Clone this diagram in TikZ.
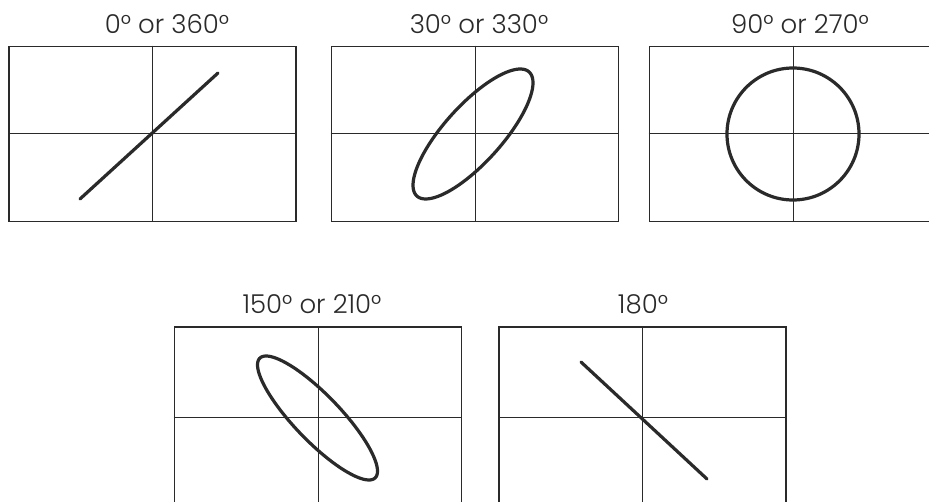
\documentclass[tikz,border=0pt]{standalone}
\usepackage{fontspec}
\setmainfont{Poppins}[UprightFont=* Light]
\definecolor{ink}{HTML}{2A2A2A}
\tikzset{
  scopebox/.style={draw=ink, line width=1.8pt, rectangle, inner sep=0pt, minimum width=287pt},
  topbox/.style={scopebox, minimum height=175pt},
  lowbox/.style={scopebox, minimum height=180pt},
  axis/.style={draw=ink, line width=1.0pt},
  trace/.style={draw=ink, line width=3.2pt, line cap=round, line join=round},
  lab/.style={anchor=base, inner sep=0pt, text=ink, font=\fontsize{26}{30}\selectfont}
}
\begin{document}
\begin{tikzpicture}[x=1pt, y=-1pt]
\useasboundingbox (0,0) rectangle (929,502);
\fill[white] (0,0) rectangle (929,502);
\clip (0,0) rectangle (929,502);

% boxes
\node[topbox] (b1) at (152.5,134) {};
\node[topbox] (b2) at (475,134) {};
\node[topbox] (b3) at (793,134) {};
\node[lowbox] (b4) at (318,417) {};
\node[lowbox] (b5) at (642.5,417) {};

% axes
\foreach \b in {b1,b2,b3,b4,b5}{
  \draw[axis] (\b.north) -- (\b.south);
  \draw[axis] (\b.west) -- (\b.east);
}

% labels
\node[lab] (t1) at (167,34) {0° or 360°};
\node[lab] (t2) at (479,34) {30° or 330°};
\node[lab] (t3) at (800,34) {90° or 270°};
\node[lab] (t4) at (312,314) {150° or 210°};
\node[lab] (t5) at (643,314) {180°};

% traces
\coordinate (l1a) at (80,199);
\coordinate (l1b) at (218,73);
\draw[trace] (l1a) -- (l1b);

\draw[trace, shift={(473,134)}] plot[domain=0:360, samples=90, smooth cycle]
  ({60*cos(\x)},{-65*cos(\x-38)});

\draw[trace] (b3.center) circle[radius=66];

\draw[trace, shift={(317.5,418)}] plot[domain=0:360, samples=90, smooth cycle]
  ({60*cos(\x)},{62*cos(\x-31)});

\coordinate (l5a) at (581,362);
\coordinate (l5b) at (707,479);
\draw[trace] (l5a) -- (l5b);
\end{tikzpicture}
\end{document}
